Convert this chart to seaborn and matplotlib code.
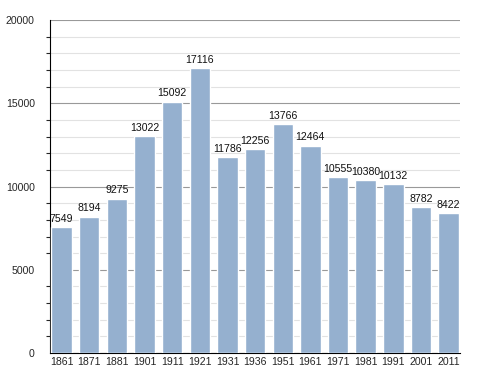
import pandas as pd
import matplotlib.pyplot as plt
import seaborn as sns
from matplotlib.ticker import MultipleLocator

years = ["1861", "1871", "1881", "1901", "1911", "1921", "1931", "1936",
         "1951", "1961", "1971", "1981", "1991", "2001", "2011"]
population = [7549, 8194, 9275, 13022, 15092, 17116, 11786, 12256,
              13766, 12464, 10555, 10380, 10132, 8782, 8422]

df = pd.DataFrame({"year": years, "pop": population})

sns.set_style("white")
plt.rcParams["font.family"] = ["Liberation Sans", "DejaVu Sans"]
fig = plt.figure(figsize=(4.88, 3.73), dpi=100)
ax = fig.add_axes([0.1025, 0.0536, 0.8405, 0.8924])

sns.barplot(data=df, x="year", y="pop", color="#95b0cf", saturation=1,
            width=0.74, ax=ax, zorder=3)

# value labels
for i, v in enumerate(population):
    ax.text(i, v + 200, str(v), ha="center", va="bottom", fontsize=7.6, color="#111111")

ax.set_ylim(0, 20000)
ax.set_xlim(-0.42, len(years) - 0.58)
ax.yaxis.set_major_locator(MultipleLocator(5000))
ax.yaxis.set_minor_locator(MultipleLocator(1000))
ax.grid(axis="y", which="major", color="#999999", linewidth=0.8, zorder=0)
ax.grid(axis="y", which="minor", color="#e2e2e2", linewidth=0.8, zorder=0)
ax.set_axisbelow(True)

ax.tick_params(axis="y", which="major", length=5, width=0.8, labelsize=7.6, pad=6)
ax.tick_params(axis="y", which="minor", length=3, width=0.8, left=True)
ax.tick_params(axis="x", length=0, labelsize=7.6, pad=3)
ax.set_xlabel("")
ax.set_ylabel("")

for s in ["top", "right"]:
    ax.spines[s].set_visible(False)
ax.spines["left"].set_color("black")
ax.spines["bottom"].set_color("black")

plt.savefig("out.png", dpi=100)
